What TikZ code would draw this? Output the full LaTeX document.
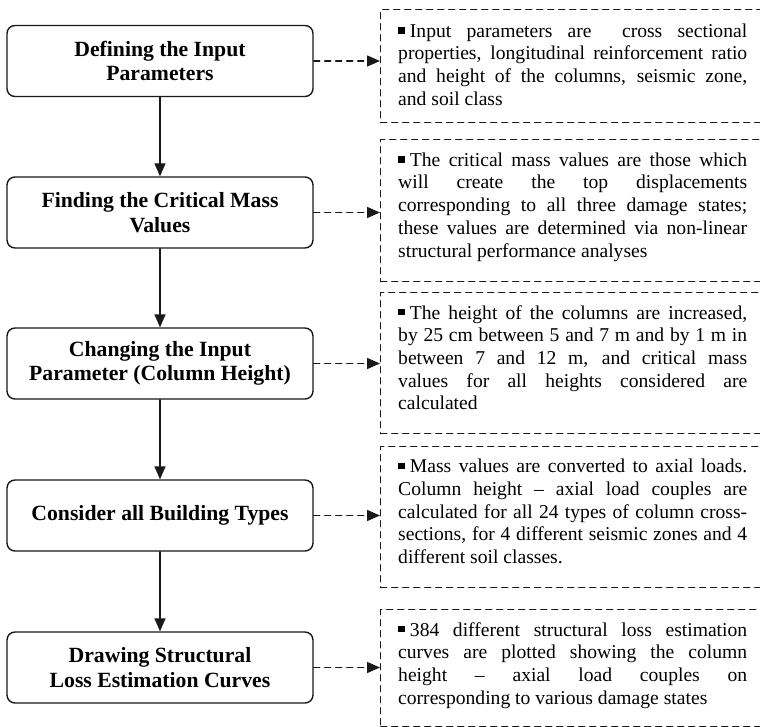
\documentclass[tikz,border=0pt]{standalone}
\usepackage{fontspec}
\setmainfont{Liberation Serif}
\usetikzlibrary{arrows.meta,positioning}
\newcommand{\sqbullet}{\rule[0.18em]{0.33em}{0.33em}\hspace{0.27em}}

\begin{document}
\begin{tikzpicture}[x=1pt,y=-1pt,>={Triangle[length=13pt,width=11pt]},line cap=round,line join=round]
\useasboundingbox[fill=white] (0,0) rectangle (760,727);
\tikzset{stepbox/.style={draw=black!90,line width=1.4pt,rounded corners=8pt,minimum width=306pt,minimum height=71pt,align=center,inner sep=0pt,font=\bfseries\fontsize{21.7}{24.5}\selectfont},noteframe/.style={draw=black!90,line width=1.4pt,dash pattern=on 6pt off 5pt,anchor=north west,minimum width=382pt,inner sep=0pt},notetext/.style={anchor=north west,inner sep=0pt,text width=349pt,align=justify,font=\fontsize{19.6}{22.7}\selectfont},flow/.style={draw=black!90,line width=1.4pt,->},side/.style={draw=black!90,line width=1.4pt,dash pattern=on 6pt off 5pt,->}}
\node[stepbox] (defInput) at (160,61) {Defining the Input\\Parameters};
\node[stepbox] (findMass) at (160,212.5) {Finding the Critical Mass\\Values};
\node[stepbox] (changeHeight) at (160,363.5) {Changing the Input\\Parameter (Column Height)};
\node[stepbox] (allTypes) at (160,515.5) {Consider all Building Types};
\node[stepbox] (drawCurves) at (160,667.5) {Drawing Structural\\Loss Estimation Curves};
\draw[flow] (defInput) -- (findMass);
\draw[flow] (findMass) -- (changeHeight);
\draw[flow] (changeHeight) -- (allTypes);
\draw[flow] (allTypes) -- (drawCurves);
\node[noteframe,minimum height=113pt] (defNote) at (380,9) {};
\node[notetext] (defText) at (398,23.5) {\sqbullet Input parameters are~~cross sectional\linebreak properties, longitudinal reinforcement ratio\linebreak and height of the columns, seismic zone,\linebreak and soil class};
\node[noteframe,minimum height=142pt] (findNote) at (380,139) {};
\node[notetext] (findText) at (398,152.5) {\sqbullet The critical mass values are those which\linebreak will create the top displacements\linebreak corresponding to all three damage states;\linebreak these values are determined via non-linear\linebreak structural performance analyses};
\node[noteframe,minimum height=141pt] (changeNote) at (380,292) {};
\node[notetext] (changeText) at (398,305) {\sqbullet The height of the columns are increased,\linebreak by 25 cm between 5 and 7 m and by 1 m in\linebreak between 7 and 12 m, and critical mass\linebreak values for all heights considered are\linebreak calculated};
\node[noteframe,minimum height=141pt] (typesNote) at (380,446) {};
\node[notetext] (typesText) at (398,459) {\sqbullet Mass values are converted to axial loads.\linebreak Column height -- axial load couples are\linebreak calculated for all 24 types of column cross-\linebreak sections, for 4 different seismic zones and 4\linebreak different soil classes.};
\node[noteframe,minimum height=117pt] (curvesNote) at (380,609) {};
\node[notetext] (curvesText) at (398,622) {\sqbullet 384 different structural loss estimation\linebreak curves are plotted showing the column\linebreak height -- axial load couples on\linebreak corresponding to various damage states};
\draw[side] (defInput.east) -- (defInput.east -| defNote.west);
\draw[side] (findMass.east) -- (findMass.east -| findNote.west);
\draw[side] (changeHeight.east) -- (changeHeight.east -| changeNote.west);
\draw[side] (allTypes.east) -- (allTypes.east -| typesNote.west);
\draw[side] (drawCurves.east) -- (drawCurves.east -| curvesNote.west);
\end{tikzpicture}
\end{document}
